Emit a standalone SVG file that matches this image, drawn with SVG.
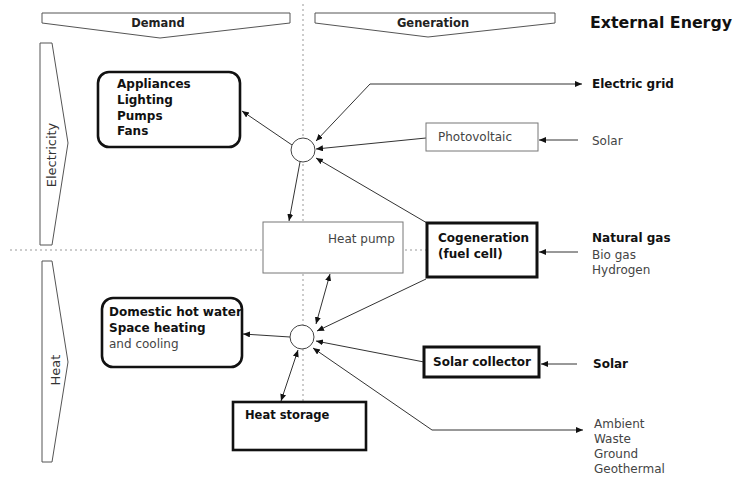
<svg xmlns="http://www.w3.org/2000/svg" width="736" height="479" viewBox="0 0 736 479">
<style>
text{font-family:"DejaVu Sans","Liberation Sans",sans-serif;font-size:12px;fill:#444}
.b{font-weight:bold;fill:#111}
.ban{font-size:11.5px;font-weight:bold;fill:#222}
.side{font-size:13px;fill:#333}
.ext{font-size:15.8px;font-weight:bold;fill:#111}
.shape{fill:#fff;stroke:#555;stroke-width:1}
.thin{fill:#fff;stroke:#777;stroke-width:1}
.thick{fill:#fff;stroke:#111;stroke-width:3}
.round{fill:#fff;stroke:#111;stroke-width:2.6}
.hub{fill:#fff;stroke:#444;stroke-width:1}
.dot{stroke:#999;stroke-width:1;stroke-dasharray:2,3;fill:none}
.c{fill:none;stroke:#333;stroke-width:1;marker-end:url(#ah)}
.cb{fill:none;stroke:#333;stroke-width:1;marker-end:url(#ah);marker-start:url(#ah)}
</style>
<defs>
<marker id="ah" markerUnits="userSpaceOnUse" markerWidth="8" markerHeight="7" refX="7" refY="3" orient="auto-start-reverse">
<path d="M0,0 L7,3 L0,6 z" fill="#111"/>
</marker>
</defs>
<rect width="736" height="479" fill="#fff"/>
<g id="grid-lines">
<line class="dot" x1="303" y1="4" x2="303" y2="402"/>
<line class="dot" x1="10" y1="250" x2="427" y2="250"/>
</g>
<g id="banner-demand">
<polygon class="shape" points="42,13 290,13 290,23 160,38 42,23"/>
<text class="ban" x="158" y="27" text-anchor="middle">Demand</text>
</g>
<g id="banner-generation">
<polygon class="shape" points="315,13 555,13 555,23 428,37 315,23"/>
<text class="ban" x="433" y="27" text-anchor="middle">Generation</text>
</g>
<g id="title-external">
<text class="ext" x="590" y="28">External Energy</text>
</g>
<g id="banner-electricity">
<polygon class="shape" points="40,43 52,43 68,143 52,245 40,245"/>
<text class="side" transform="translate(56,155) rotate(-90)" text-anchor="middle">Electricity</text>
</g>
<g id="banner-heat">
<polygon class="shape" points="42,261 52,261 68,362 52,462 42,462"/>
<text class="side" transform="translate(60,370) rotate(-90)" text-anchor="middle">Heat</text>
</g>
<g id="connectors">
<path class="c" d="M292,145 L242,111"/>
<path class="c" d="M300,162 L289,221"/>
<path class="cb" d="M316,141 L370,84 L582,84"/>
<path class="c" d="M426,138 L316,149"/>
<path class="c" d="M427,223 L316,158"/>
<path class="c" d="M578,140 L539,140"/>
<path class="c" d="M578,252 L539,252"/>
<path class="cb" d="M330,274 L316,324"/>
<path class="c" d="M290,337 L243,334"/>
<path class="cb" d="M298,350 L281,401"/>
<path class="c" d="M426,279 L317,331"/>
<path class="c" d="M424,362 L316,341"/>
<path class="cb" d="M313,348 L432,430 L583,430"/>
<path class="c" d="M577,364 L541,364"/>
</g>
<g id="hub-electricity"><circle class="hub" cx="303" cy="150" r="12"/></g>
<g id="hub-heat"><circle class="hub" cx="302" cy="337" r="12"/></g>
<g id="appliances">
<rect class="round" x="98" y="72" width="142" height="75" rx="11"/>
<text class="b" x="117" y="88">Appliances</text>
<text class="b" x="117" y="104">Lighting</text>
<text class="b" x="117" y="120">Pumps</text>
<text class="b" x="117" y="135">Fans</text>
</g>
<g id="heat-pump">
<rect class="thin" x="263" y="222" width="140" height="51"/>
<text x="328" y="243">Heat pump</text>
</g>
<g id="photovoltaic">
<rect class="thin" x="426" y="123" width="112" height="28"/>
<text x="438" y="141">Photovoltaic</text>
</g>
<g id="cogeneration">
<rect class="thick" x="427" y="223" width="110" height="54"/>
<text class="b" x="438" y="242">Cogeneration</text>
<text class="b" x="438" y="258">(fuel cell)</text>
</g>
<g id="domestic">
<rect class="round" x="102" y="298" width="140" height="69" rx="11"/>
<text class="b" x="109" y="316">Domestic hot water</text>
<text class="b" x="109" y="332">Space heating</text>
<text x="109" y="348">and cooling</text>
</g>
<g id="solar-collector">
<rect class="thick" x="424" y="347" width="115" height="30"/>
<text class="b" x="482" y="366" text-anchor="middle">Solar collector</text>
</g>
<g id="heat-storage">
<rect class="round" x="233" y="402" width="133" height="48"/>
<text class="b" x="245" y="419" style="font-size:11.5px">Heat storage</text>
</g>
<g id="ext-grid"><text class="b" x="592" y="88">Electric grid</text></g>
<g id="ext-solar-pv"><text x="592" y="145">Solar</text></g>
<g id="ext-gas">
<text class="b" x="592" y="242">Natural gas</text>
<text x="592" y="259">Bio gas</text>
<text x="592" y="274">Hydrogen</text>
</g>
<g id="ext-solar-th"><text class="b" x="593" y="368">Solar</text></g>
<g id="ext-ambient">
<text x="594" y="428">Ambient</text>
<text x="594" y="443">Waste</text>
<text x="594" y="458">Ground</text>
<text x="594" y="473">Geothermal</text>
</g>
</svg>
